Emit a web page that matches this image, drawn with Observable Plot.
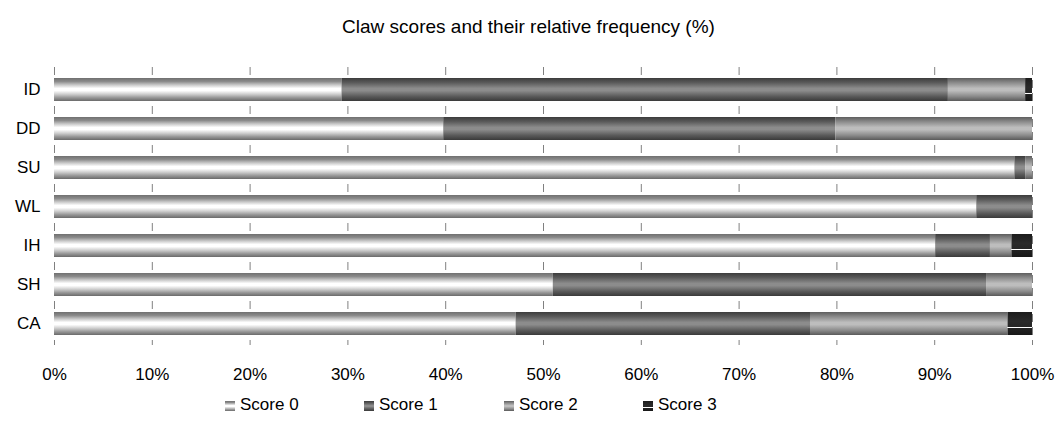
<!DOCTYPE html>
<html>
<head>
<meta charset="utf-8">
<script src="https://cdn.jsdelivr.net/npm/d3@7"></script>
<script src="https://cdn.jsdelivr.net/npm/@observablehq/plot@0.6"></script>
<style>
  html, body { margin: 0; padding: 0; background: #fff; }
  body { width: 1057px; height: 425px; font-family: "Liberation Sans", Arial, sans-serif; }
  #title { height: 50px; text-align: center; font-size: 19px; line-height: 19px; padding-top: 17px; box-sizing: border-box; color: #000; }
  #chart svg { display: block; }
  #legend { position: absolute; top: 395px; left: 0; width: 1057px; height: 20px; font-size: 17px; }
  .item { position: absolute; top: 0; display: flex; align-items: center; }
  .item svg { margin-right: 4px; }
</style>
</head>
<body>
<div id="title">Claw scores and their relative frequency (%)</div>
<div id="chart"></div>
<div id="legend"></div>
<script>
const groups = ["ID", "DD", "SU", "WL", "IH", "SH", "CA"];
const scores = ["Score 0", "Score 1", "Score 2", "Score 3"];
const score0 = [29.4, 39.8, 98.2, 94.3, 90.1, 51.0, 47.2];
const score1 = [62.0, 40.1, 1.1, 5.7, 5.6, 44.3, 30.1];
const score2 = [7.9, 20.1, 0.7, 0, 2.2, 4.7, 20.2];
const score3 = [0.7, 0, 0, 0, 2.1, 0, 2.5];
const xTicks = [0, 10, 20, 30, 40, 50, 60, 70, 80, 90, 100];

const seriesValues = [score0, score1, score2, score3];
const data = [];
groups.forEach((g, i) => {
  scores.forEach((s, k) => data.push({group: g, score: s, value: seriesValues[k][i]}));
});

const gradIds = ["g0", "g1", "g2", "g3"];
const gradStops = [
  [[0, "#707070"], [0.15, "#8a8a8a"], [0.3, "#c8c8c8"], [0.45, "#ffffff"], [0.55, "#ffffff"], [0.7, "#d0d0d0"], [0.85, "#999999"], [1, "#6a6a6a"]],
  [[0, "#3c3c3c"], [0.2, "#5a5a5a"], [0.45, "#8c8c8c"], [0.55, "#8c8c8c"], [0.8, "#5a5a5a"], [1, "#3a3a3a"]],
  [[0, "#5e5e5e"], [0.2, "#8a8a8a"], [0.45, "#bdbdbd"], [0.55, "#bdbdbd"], [0.8, "#8a8a8a"], [1, "#5a5a5a"]],
  [[0, "#1c1c1c"], [0.4, "#2a2a2a"], [0.64, "#262626"], [0.65, "#ffffff"], [0.7, "#ffffff"], [0.71, "#222222"], [1, "#181818"]]
];

function addDefs(svgSel, prefix) {
  const defs = svgSel.insert("defs", ":first-child");
  gradIds.forEach((id, k) => {
    const lg = defs.append("linearGradient").attr("id", prefix + id)
      .attr("x1", 0).attr("y1", 0).attr("x2", 0).attr("y2", 1);
    gradStops[k].forEach(([o, c]) => lg.append("stop").attr("offset", o).attr("stop-color", c));
  });
}

const chart = Plot.plot({
  width: 1057,
  height: 340,
  marginLeft: 54,
  marginRight: 25,
  marginTop: 17,
  marginBottom: 45,
  style: {fontFamily: "Liberation Sans, Arial, sans-serif", fontSize: "17px", color: "#000", background: "#fff"},
  x: {domain: [0, 100], ticks: xTicks, tickFormat: d => d + "%", tickSize: 0, tickPadding: 22, label: null},
  y: {domain: groups, paddingInner: 0.42, paddingOuter: 0.21, tickSize: 0, tickPadding: 14, label: null},
  color: {domain: scores, range: gradIds.map(id => `url(#${id})`)},
  marks: [
    Plot.gridX(xTicks, {stroke: "#808080", strokeOpacity: 1, strokeWidth: 1, strokeDasharray: "8,5"}),
    Plot.barX(data, Plot.stackX({x: "value", y: "group", fill: "score", order: null}))
  ]
});
document.getElementById("chart").appendChild(chart);
addDefs(d3.select(chart), "");

const legend = d3.select("#legend");
const legendX = [225, 364, 504, 643];
scores.forEach((s, k) => {
  const item = legend.append("div").attr("class", "item").style("left", legendX[k] + "px");
  const sv = item.append("svg").attr("width", 11).attr("height", 11);
  addDefs(sv, "L" + k);
  sv.append("rect").attr("x", 0).attr("y", 1).attr("width", 10).attr("height", 10).attr("fill", `url(#L${k}${gradIds[k]})`);
  item.append("span").text(s);
});
</script>
</body>
</html>
